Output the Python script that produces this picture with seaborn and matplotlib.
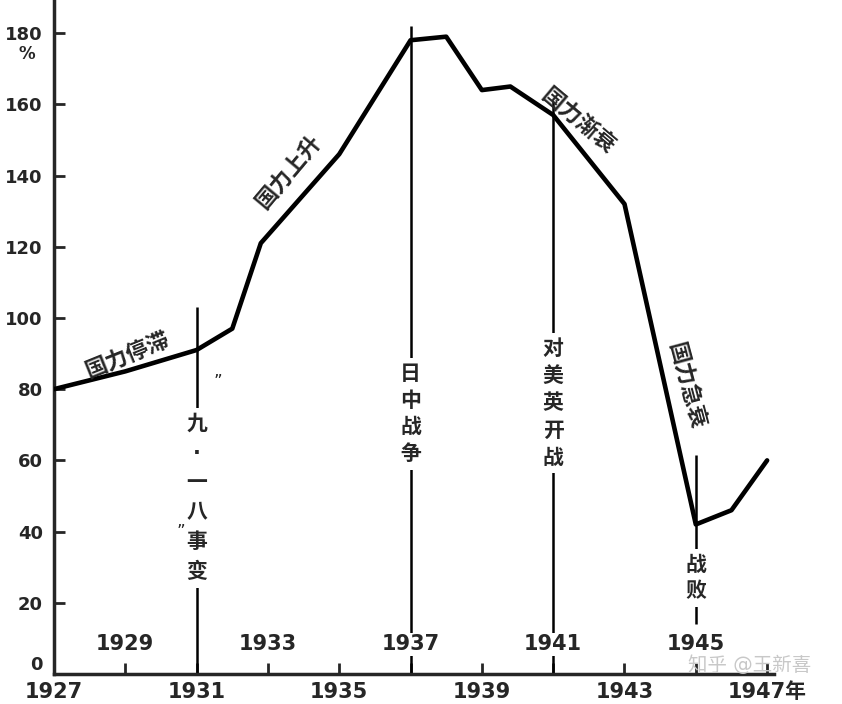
import matplotlib
matplotlib.use("Agg")
import matplotlib.pyplot as plt
import seaborn as sns
import pandas as pd

# national power index (%)
years = [1927, 1929, 1931, 1932, 1932.8, 1935, 1937, 1938, 1939, 1939.8, 1941, 1943, 1945, 1946, 1947]
power = [80, 85, 91, 97, 121, 146, 178, 179, 164, 165, 157, 132, 42, 46, 60]

y_ticks = [0, 20, 40, 60, 80, 100, 120, 140, 160, 180]
years_below = [1927, 1931, 1935, 1939, 1943, 1947]
labels_below = ["1927", "1931", "1935", "1939", "1943", "1947年"]
years_above = [1929, 1933, 1937, 1941, 1945]

event_years = [1931, 1937, 1941, 1945]
event_labels = ["九·一八事变", "日中战争", "对美英开战", "战败"]
event_tops = [103, 182, 161, 61.5]

phase_labels = ["国力停滞", "国力上升", "国力渐衰", "国力急衰"]

sns.set_style("ticks")
plt.rcParams["font.family"] = ["DejaVu Sans", "Noto Sans CJK SC"]

fig = plt.figure(figsize=(8.42, 7.04), dpi=100)
ax = fig.add_axes([54 / 842, 30 / 704, 788 / 842, 674 / 704])

df = pd.DataFrame({"year": years, "power": power})
sns.lineplot(data=df, x="year", y="power", color="black", linewidth=3.3,
             ax=ax, zorder=5)

ax.set_xlim(1927, 1949.1)
ax.set_ylim(0, 189.3)
ax.set_xlabel("")
ax.set_ylabel("")
sns.despine(ax=ax)
ax.spines["left"].set_linewidth(2.5)
ax.spines["bottom"].set_linewidth(2.5)
ax.spines["bottom"].set_bounds(1927, 1947.2)

ax.set_yticks(y_ticks)
ax.set_yticklabels([str(v) for v in y_ticks], fontweight="bold")
ax.tick_params(axis="y", direction="in", length=8, width=2, pad=8, labelsize=13)
ax.get_yticklabels()[0].set_verticalalignment("bottom")
ax.text(-0.035, 174, "%", transform=ax.get_yaxis_transform(), ha="center",
        va="center", fontsize=12, fontweight="bold")

ax.set_xticks(years_below + years_above)
ax.set_xticklabels(labels_below + [""] * len(years_above), fontweight="bold")
ax.tick_params(axis="x", direction="in", length=8, width=2, pad=6, labelsize=15)
for yr in years_above:
    ax.text(yr, 8.3, str(yr), ha="center", va="center", fontsize=15,
            fontweight="bold", zorder=4,
            bbox=dict(facecolor="white", edgecolor="none", pad=1))

# event markers: vertical lines interrupted by stacked labels
text_centers = [49.5, 73, 76, 27]
spacings = [1.6, 1.42, 1.45, 1.38]
bottoms = [0, 0, 0, 14]
for yr, lab, top, yc, ls, bot in zip(event_years, event_labels, event_tops,
                                     text_centers, spacings, bottoms):
    ax.vlines(yr, bot, top, color="black", linewidth=1.8, zorder=2)
    ax.text(yr, yc, "\n".join(lab), ha="center", va="center", fontsize=15,
            fontweight="bold", linespacing=ls, zorder=3,
            bbox=dict(facecolor="white", edgecolor="none", pad=4))

# quote marks around 九·一八
ax.text(1931.6, 82, "\u201d", ha="center", va="center", fontsize=12)
ax.text(1930.55, 40, "\u201d", ha="center", va="center", fontsize=12)

# phase labels along the curve
phase_pos = [(1929.05, 89.5), (1933.6, 141), (1941.7, 155.5), (1944.75, 81)]
phase_rot = [22, 50, -40, -75]
for lab, (px, py), rot in zip(phase_labels, phase_pos, phase_rot):
    ax.text(px, py, lab, ha="center", va="center", rotation=rot,
            rotation_mode="anchor", fontsize=16, fontweight="bold", zorder=6)

ax.text(1946.5, 2.6, "知乎 @王新喜", ha="center", va="center", fontsize=14,
        color="#c8c8c8", zorder=6)

fig.savefig("out.png", dpi=100)
